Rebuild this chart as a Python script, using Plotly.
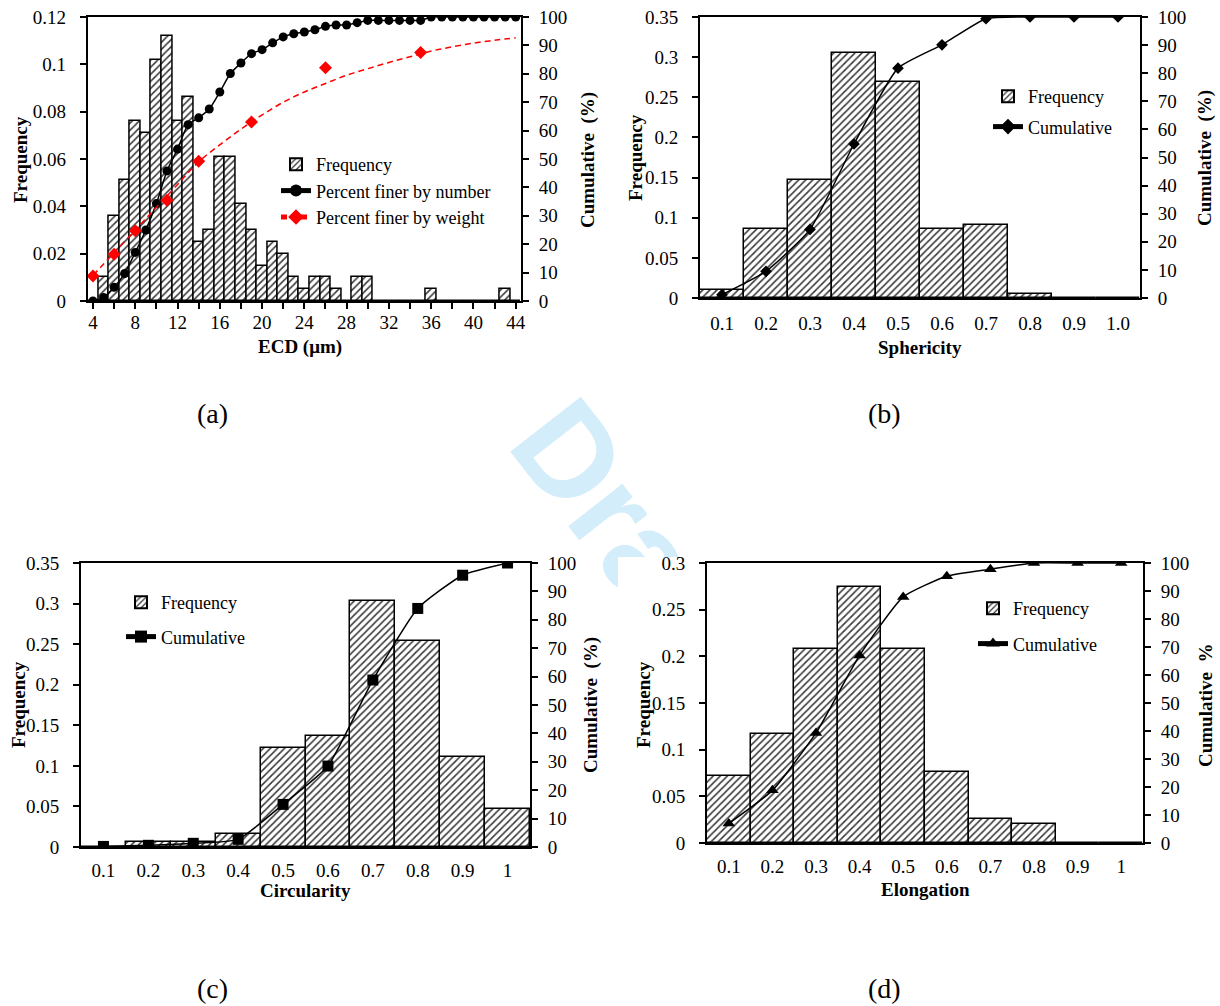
import base64
import plotly.graph_objects as go

W, H = 1220, 1006
SERIF = "Liberation Serif"

# ---------------- data ----------------
# (a) ECD distribution
ecd_um = list(range(4, 45))
ecd_frequency = [0, 0.010, 0.036, 0.051, 0.076, 0.071, 0.102, 0.112, 0.076, 0.086,
                 0.025, 0.030, 0.061, 0.061, 0.041, 0.030, 0.015, 0.025, 0.020, 0.010,
                 0.005, 0.010, 0.010, 0.005, 0, 0.010, 0.010, 0, 0, 0,
                 0, 0, 0.005, 0, 0, 0, 0, 0, 0, 0.005, 0]
ecd_finer_by_number = [0, 1.2, 4.8, 9.7, 17.1, 25.0, 34.3, 45.8, 53.5, 62.1,
                       64.5, 67.6, 73.6, 80.1, 83.8, 87.1, 88.5, 90.9, 93.0, 94.1,
                       94.7, 95.5, 96.7, 97.2, 97.2, 98.0, 98.8, 98.8, 98.8, 98.8,
                       98.8, 98.8, 100, 100, 100, 100, 100, 100, 100, 100, 100]
weight_ecd = [4, 6, 8, 11, 14, 19, 26, 35]
weight_finer = [8.8, 16.5, 24.7, 35.5, 49.2, 63.0, 82.1, 87.5]
weight_trend_ecd = [4, 6, 8, 10, 12, 14, 16, 18, 20, 22, 24, 26, 28, 30, 32, 34, 36, 38, 40, 42, 44]
weight_trend = [9, 17, 25, 33, 41, 49, 55, 60.5, 65.5, 70, 73.6, 76.6, 79.5, 81.8, 84, 86,
                88, 89.5, 90.8, 91.8, 92.7]
ecd_tickvals = [4, 8, 12, 16, 20, 24, 28, 32, 36, 40, 44]
ecd_ticktext = ["4", "8", "12", "16", "20", "24", "28", "32", "36", "40", "44"]

# (b)(c)(d) shape factors
shape_bins = [0.1, 0.2, 0.3, 0.4, 0.5, 0.6, 0.7, 0.8, 0.9, 1.0]
sphericity_ticktext = ["0.1", "0.2", "0.3", "0.4", "0.5", "0.6", "0.7", "0.8", "0.9", "1.0"]
other_ticktext = ["0.1", "0.2", "0.3", "0.4", "0.5", "0.6", "0.7", "0.8", "0.9", "1"]

sphericity_freq = [0.010, 0.086, 0.147, 0.305, 0.269, 0.086, 0.091, 0.005, 0, 0]
sphericity_cum = [1.2, 9.5, 24.4, 54.8, 81.8, 90.1, 99.4, 100, 100, 100]

circularity_freq = [0, 0.006, 0.006, 0.016, 0.122, 0.137, 0.303, 0.254, 0.111, 0.047]
circularity_cum = [0.2, 0.6, 1.3, 2.7, 15.0, 28.5, 58.8, 84.0, 95.7, 100]

elongation_freq = [0.072, 0.117, 0.208, 0.274, 0.208, 0.076, 0.026, 0.020, 0, 0]
elongation_cum = [7.0, 18.8, 39.3, 67.0, 87.9, 95.3, 97.8, 100, 100, 100]

freq_ticks_a = [0, 0.02, 0.04, 0.06, 0.08, 0.1, 0.12]
freq_ticks_a_text = ["0", "0.02", "0.04", "0.06", "0.08", "0.1", "0.12"]
freq_ticks_bc = [0, 0.05, 0.1, 0.15, 0.2, 0.25, 0.3, 0.35]
freq_ticks_bc_text = ["0", "0.05", "0.1", "0.15", "0.2", "0.25", "0.3", "0.35"]
freq_ticks_d = [0, 0.05, 0.1, 0.15, 0.2, 0.25, 0.3]
freq_ticks_d_text = ["0", "0.05", "0.1", "0.15", "0.2", "0.25", "0.3"]
cum_ticks = [0, 10, 20, 30, 40, 50, 60, 70, 80, 90, 100]

# ---------------- helpers ----------------
def dx(l, r):
    return [l / W, r / W]

def dy(t, b):
    return [1 - b / H, 1 - t / H]

def bar_marker():
    return dict(color="white", line=dict(color="black", width=1.5),
                pattern=dict(shape="/", fgcolor="#3a3a3a", bgcolor="white",
                             size=5, solidity=0.32, fillmode="replace"))

tickfont = dict(family=SERIF, size=19, color="black")
axis_common = dict(showline=True, linecolor="black", linewidth=2, showgrid=False,
                   zeroline=False, tickfont=tickfont, tickcolor="black", tickwidth=1.5,
                   automargin=False)

fig = go.Figure()

# ---------- panel (a) ----------
fig.add_trace(go.Bar(x=ecd_um, y=ecd_frequency, width=1, marker=bar_marker(),
                     name="Frequency", xaxis="x", yaxis="y", legend="legend"))
fig.add_trace(go.Scatter(x=ecd_um, y=ecd_finer_by_number, mode="lines+markers",
                         line=dict(color="black", width=1.5, shape="spline", smoothing=0.6),
                         marker=dict(symbol="circle", size=9, color="black"),
                         name="Percent finer by number", xaxis="x", yaxis="y2", legend="legend"))
fig.add_trace(go.Scatter(x=weight_trend_ecd, y=weight_trend, mode="lines",
                         line=dict(color="#ff0000", width=1.5, dash="6px,4px", shape="spline"),
                         showlegend=False, xaxis="x", yaxis="y2", hoverinfo="skip"))
fig.add_trace(go.Scatter(x=weight_ecd, y=weight_finer, mode="markers",
                         marker=dict(symbol="diamond", size=10, color="#ff0000"),
                         showlegend=False, xaxis="x", yaxis="y2"))
fig.add_trace(go.Scatter(x=[None], y=[None], mode="lines+markers",
                         line=dict(color="#ff0000", width=1.5, dash="6px,4px"),
                         marker=dict(symbol="diamond", size=10, color="#ff0000"),
                         name="Percent finer by weight", xaxis="x", yaxis="y2", legend="legend"))

# ---------- panels (b)(c)(d) ----------
panels = [
    ("x2", "y3", "y4", "legend2", sphericity_freq, sphericity_cum, "diamond", 9),
    ("x3", "y5", "y6", "legend3", circularity_freq, circularity_cum, "square", 11),
    ("x4", "y7", "y8", "legend4", elongation_freq, elongation_cum, "triangle-up", 11),
]
for xa, ya, ya2, lg, fr, cu, sym, ms in panels:
    fig.add_trace(go.Bar(x=shape_bins, y=fr, width=0.1, marker=bar_marker(), name="Frequency",
                         xaxis=xa, yaxis=ya, legend=lg, legendgroup=lg + "f"))
    fig.add_trace(go.Scatter(x=shape_bins, y=cu, mode="lines+markers", name="Cumulative",
                             line=dict(color="black", width=1.5, shape="spline", smoothing=0.5),
                             marker=dict(symbol=sym, size=ms, color="black"),
                             xaxis=xa, yaxis=ya2, legend=lg, legendgroup=lg + "c"))

# ---------- axes ----------
doms = {
    "a": (dx(87.7, 521), dy(17, 301)),
    "b": (dx(700, 1140), dy(17, 298)),
    "c": (dx(81, 530), dy(563, 847)),
    "d": (dx(707, 1143), dy(563, 843)),
}

layout = dict(
    width=W, height=H, margin=dict(l=0, r=0, t=0, b=0, autoexpand=False),
    paper_bgcolor="white", plot_bgcolor="rgba(0,0,0,0)",
    showlegend=True, bargap=0,
)

def xaxis_cfg(dom, anchor, rng, tv, tt, minor=None, ticks="", standoff=7):
    cfg = dict(axis_common, domain=dom, anchor=anchor, range=rng, tickvals=tv, ticktext=tt,
               mirror=True, ticks=ticks, ticklen=6, ticklabelstandoff=standoff)
    if minor:
        cfg["minor"] = minor
    return cfg

def yleft(dom, anchor, rng, tv, tt):
    return dict(axis_common, domain=dom, anchor=anchor, range=rng, tickvals=tv, ticktext=tt,
                ticks="outside", ticklen=6, ticklabelstandoff=10)

def yright(over, anchor, rng):
    return dict(axis_common, overlaying=over, anchor=anchor, side="right", range=rng,
                tickvals=cum_ticks, ticks="outside", ticklen=6, ticklabelstandoff=6)

layout["xaxis"] = xaxis_cfg(doms["a"][0], "y", [3.5, 44.5], ecd_tickvals, ecd_ticktext,
                            minor=dict(tick0=4, dtick=2, ticks="outside", ticklen=6,
                                       tickwidth=1.5, tickcolor="black", showgrid=False),
                            ticks="outside", standoff=-3)
layout["yaxis"] = yleft(doms["a"][1], "x", [0, 0.12], freq_ticks_a, freq_ticks_a_text)
layout["yaxis2"] = yright("y", "x", [0, 100])

layout["xaxis2"] = xaxis_cfg(doms["b"][0], "y3", [0.05, 1.05], shape_bins, sphericity_ticktext,
                             standoff=7)
layout["yaxis3"] = yleft(doms["b"][1], "x2", [0, 0.35], freq_ticks_bc, freq_ticks_bc_text)
layout["yaxis4"] = yright("y3", "x2", [0, 100])

layout["xaxis3"] = xaxis_cfg(doms["c"][0], "y5", [0.05, 1.05], shape_bins, other_ticktext,
                             standoff=5)
layout["yaxis5"] = yleft(doms["c"][1], "x3", [0, 0.35], freq_ticks_bc, freq_ticks_bc_text)
layout["yaxis6"] = yright("y5", "x3", [0, 100])

layout["xaxis4"] = xaxis_cfg(doms["d"][0], "y7", [0.05, 1.05], shape_bins, other_ticktext,
                             standoff=5)
layout["yaxis7"] = yleft(doms["d"][1], "x4", [0, 0.3], freq_ticks_d, freq_ticks_d_text)
layout["yaxis8"] = yright("y7", "x4", [0, 100])

# ---------- legends ----------
legfont = dict(family=SERIF, size=18, color="black")
def leg(x, ytop, gap):
    return dict(x=x / W, y=1 - ytop / H, xanchor="left", yanchor="top", font=legfont,
                bgcolor="rgba(0,0,0,0)", borderwidth=0, traceorder="grouped",
                tracegroupgap=gap, itemsizing="constant")

layout["legend"] = leg(276, 146, 0)
layout["legend2"] = leg(988, 78, 4)
layout["legend3"] = leg(121, 584, 8)
layout["legend4"] = leg(973, 590, 9)

# ---------- titles & captions (annotations) ----------
ann = []
def text(x, y, s, size=19, bold=True, angle=0):
    ann.append(dict(x=x / W, y=1 - y / H, xref="paper", yref="paper", showarrow=False,
                    text=f"<b>{s}</b>" if bold else s, textangle=angle,
                    font=dict(family=SERIF, size=size, color="black"),
                    xanchor="center", yanchor="middle"))

text(20, 160, "Frequency", angle=-90)
text(588, 160, "Cumulative  (%)", angle=-90)
text(300, 347, "ECD (μm)")
text(635, 158, "Frequency", angle=-90)
text(1205, 158, "Cumulative  (%)", angle=-90)
text(920, 347, "Sphericity")
text(18, 705, "Frequency", angle=-90)
text(591, 705, "Cumulative  (%)", angle=-90)
text(305, 890, "Circularity")
text(643, 705, "Frequency", angle=-90)
text(1205, 705, "Cumulative  %", angle=-90)
text(925, 889, "Elongation")
for cx, cy, s in [(212, 413, "(a)"), (884, 413, "(b)"), (212, 988, "(c)"), (884, 988, "(d)")]:
    text(cx, cy, s, size=28, bold=False)
layout["annotations"] = ann

# ---------- watermark (under the opaque panel boxes) ----------
svg = (f'<svg xmlns="http://www.w3.org/2000/svg" width="{W}" height="{H}" viewBox="0 0 {W} {H}">'
       '<text x="0" y="0" transform="translate(505,445) rotate(52)" '
       'font-family="Liberation Sans, Arial, sans-serif" font-weight="bold" font-size="130" '
       'fill="#d3edfa">Draft</text></svg>')
uri = "data:image/svg+xml;base64," + base64.b64encode(svg.encode()).decode()
layout["images"] = [dict(source=uri, xref="paper", yref="paper", x=0, y=1, sizex=1, sizey=1,
                         xanchor="left", yanchor="top", sizing="stretch", layer="below")]
boxes = [(0, 0, 612, 385), (616, 0, W, 385), (0, 556, 602, H), (618, 557, W, H)]
layout["shapes"] = [dict(type="rect", xref="paper", yref="paper", x0=l / W, x1=r / W,
                         y0=1 - b / H, y1=1 - t / H, fillcolor="white",
                         line=dict(width=0), layer="below") for l, t, r, b in boxes]

fig.update_layout(**layout)
fig.write_html("out.html", config={"displayModeBar": False},
               post_script="document.body.style.margin='0px';document.body.style.overflow='hidden';")
